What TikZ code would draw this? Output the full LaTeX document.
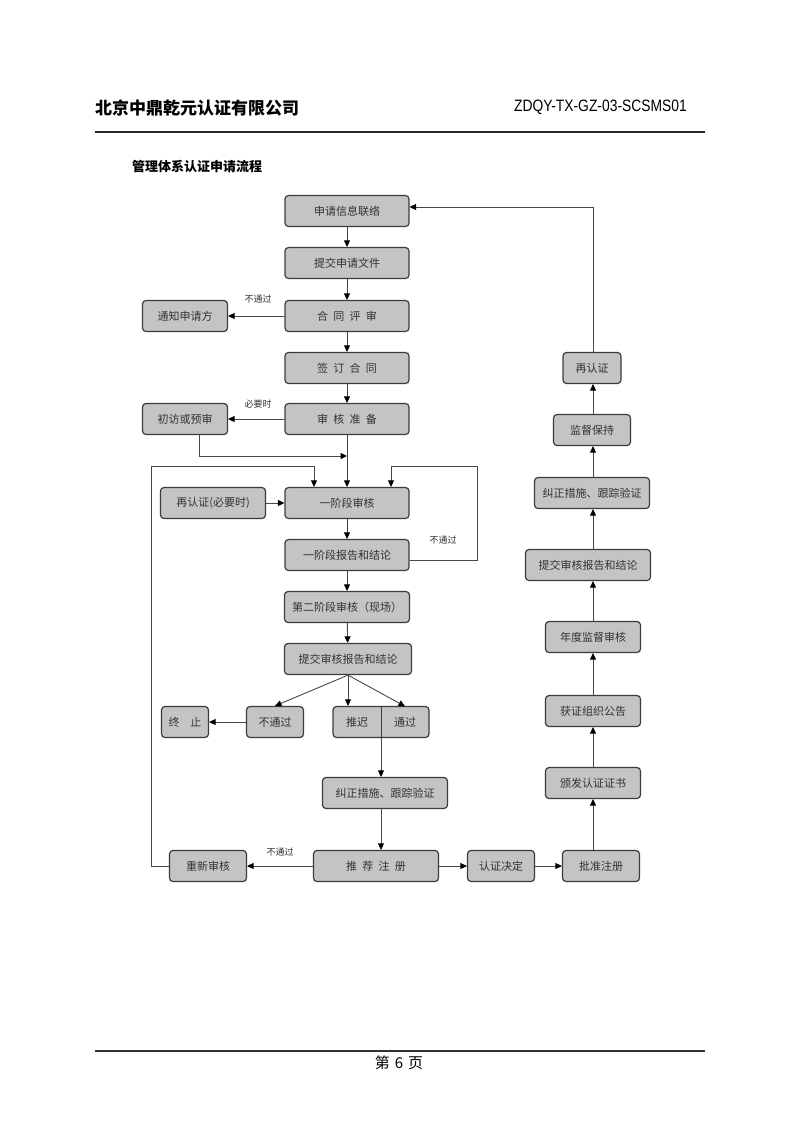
\documentclass[tikz,border=0pt]{standalone}
\usepackage{fontspec}
\usepackage{tikz}
\usetikzlibrary{arrows.meta,calc}
\newfontfamily\cjk{Noto Sans CJK SC}
\newfontfamily\codefont[FakeStretch=0.84]{Liberation Sans}
\definecolor{boxfill}{RGB}{196,196,196}
\definecolor{boxline}{RGB}{60,60,60}
\definecolor{boxtext}{RGB}{50,50,50}
\definecolor{wireclr}{RGB}{72,72,72}
\newcommand{\kong}{\hspace{0.48em}}
\tikzset{
  % Flow boxes
  flowbox/.style  = {draw=boxline, fill=boxfill, line width=1.2pt, rounded corners=3.5pt,
                     minimum height=31pt, inner sep=0pt, text=boxtext,
                     font=\cjk\fontsize{11pt}{13pt}\selectfont},
  plaintxt/.style = {inner sep=0pt, minimum height=31pt, text=boxtext,
                     font=\cjk\fontsize{11pt}{13pt}\selectfont},
  % Connectors
  wire/.style     = {draw=wireclr, line width=0.9pt},
  arrow/.style    = {wire, -{Triangle[length=6.5pt,width=6pt,color=black]}},
  % Small labels
  note/.style     = {font=\cjk\fontsize{9pt}{10pt}\selectfont, text=boxtext, inner sep=0pt},
}
\begin{document}
\begin{tikzpicture}[x=1pt,y=-1pt]
  \useasboundingbox[fill=white] (0,0) rectangle (800,1135);
  % Header and footer
  \node[anchor=west, inner sep=0pt, font=\cjk\bfseries\fontsize{17pt}{19pt}\selectfont]
    (company) at (95,108) {北京中鼎乾元认证有限公司};
  \node[anchor=east, inner sep=0pt, font=\codefont\fontsize{16.5pt}{18pt}\selectfont]
    (docno) at (687,107) {ZDQY-TX-GZ-03-SCSMS01};
  \draw[line width=1.3pt, black!85] (95,132) -- (705,132);
  \node[anchor=west, inner sep=0pt, font=\cjk\bfseries\fontsize{13pt}{15pt}\selectfont]
    (title) at (132,167) {管理体系认证申请流程};
  \draw[line width=2pt, black!80] (95,1051) -- (705,1051);
  \node[inner sep=0pt, font=\cjk\fontsize{15pt}{17pt}\selectfont] (pageno) at (399,1063) {第\,\,6\,\,页};
  % Left column
  \node[flowbox, minimum width=124pt] (apply)     at (347,211) {申请信息联络};
  \node[flowbox, minimum width=124pt] (submit)    at (347,263) {提交申请文件};
  \node[flowbox, minimum width=124pt] (contract)  at (347,316) {合\kong 同\kong 评\kong 审};
  \node[flowbox, minimum width=85pt]  (notify)    at (185,316) {通知申请方};
  \node[flowbox, minimum width=124pt] (sign)      at (347,368) {签\kong 订\kong 合\kong 同};
  \node[flowbox, minimum width=124pt] (prep)      at (347,419) {审\kong 核\kong 准\kong 备};
  \node[flowbox, minimum width=85pt]  (visit)     at (185,419) {初访或预审};
  \node[flowbox, minimum width=105pt] (recert)    at (213,503) {再认证(必要时)};
  \node[flowbox, minimum width=124pt] (stage1)    at (347,503) {一阶段审核};
  \node[flowbox, minimum width=124pt] (stage1rep) at (347,555) {一阶段报告和结论};
  \node[flowbox, minimum width=125pt] (stage2)    at (347,607) {第二阶段审核（现场）};
  \node[flowbox, minimum width=127pt] (report)    at (348,659) {提交审核报告和结论};
  \node[flowbox, minimum width=57pt]  (fail)      at (275,722) {不通过};
  \node[flowbox, minimum width=47pt]  (stop)      at (185,722) {终\kong\kong 止};
  \node[flowbox, minimum width=96pt]  (hold)      at (381,722) {};
  \node[plaintxt, minimum width=48pt] (delay)     at (357,722) {推迟};
  \node[plaintxt, minimum width=48pt] (pass)      at (405,722) {通过};
  \draw[boxline, line width=1pt] (hold.north) -- (hold.south);
  \node[flowbox, minimum width=125pt] (fix)       at (385,793) {纠正措施、跟踪验证};
  \node[flowbox, minimum width=125pt] (recommend) at (376,866) {推\kong 荐\kong 注\kong 册};
  \node[flowbox, minimum width=77pt]  (redo)      at (208,866) {重新审核};
  \node[flowbox, minimum width=67pt]  (decide)    at (501,866) {认证决定};
  % Right column
  \node[flowbox, minimum width=77pt]  (approve)   at (601,866) {批准注册};
  \node[flowbox, minimum width=95pt]  (issue)     at (593,783) {颁发认证证书};
  \node[flowbox, minimum width=95pt]  (publish)   at (593,711) {获证组织公告};
  \node[flowbox, minimum width=95pt]  (annual)    at (593,637) {年度监督审核};
  \node[flowbox, minimum width=125pt] (report2)   at (588,565) {提交审核报告和结论};
  \node[flowbox, minimum width=115pt] (fix2)      at (592,493) {纠正措施、跟踪验证};
  \node[flowbox, minimum width=77pt]  (keep)      at (592,430) {监督保持};
  \node[flowbox, minimum width=58pt]  (again)     at (592,368) {再认证};
  \coordinate (spine) at (593,0);
  % Main chain
  \draw[arrow] (apply) -- (submit);
  \draw[arrow] (submit) -- (contract);
  \draw[arrow] (contract) -- (sign);
  \draw[arrow] (sign) -- (prep);
  \draw[arrow] (prep) -- (stage1);
  \draw[arrow] (stage1) -- (stage1rep);
  \draw[arrow] (stage1rep) -- (stage2);
  \draw[arrow] (stage2) -- (report);
  \draw[arrow] (contract) -- (notify);
  \draw[arrow] (prep) -- (visit);
  \draw[arrow] (recert) -- (stage1);
  \node[note] (nopass1) at (258,299) {不通过};
  \node[note] (needed)  at (258,404) {必要时};
  % Pre-visit joins the main line
  \coordinate (vjoin) at (199,456);
  \draw[arrow] (vjoin |- visit.south) |- (prep.south |- vjoin);
  % Loop back from stage-1 report
  \coordinate (inR) at (391,466);
  \draw[wire] ([yshift=-5pt]stage1rep.east) -| (477,466) -- (inR);
  \draw[arrow] (inR) -- (inR |- stage1.north);
  \node[note] (nopass2) at (443,540) {不通过};
  % Loop back from re-audit
  \coordinate (inL) at (314,466);
  \draw[wire] (redo.west) -| (151,466) -- (inL);
  \draw[arrow] (inL) -- (inL |- stage1.north);
  % Audit outcome
  \draw[arrow] (report.south) -- (fail.north);
  \draw[arrow] (report.south) -- (report.south |- hold.north);
  \draw[arrow] (report.south) -- (pass.north);
  \draw[arrow] (fail) -- (stop);
  \draw[arrow] (hold.south) -- (hold.south |- fix.north);
  \draw[arrow] (hold.south |- fix.south) -- (hold.south |- recommend.north);
  \draw[arrow] (recommend) -- (redo);
  \node[note] (nopass3) at (280,852) {不通过};
  \draw[arrow] (recommend) -- (decide);
  \draw[arrow] (decide) -- (approve);
  % Certification cycle
  \draw[arrow] (spine |- approve.north) -- (spine |- issue.south);
  \draw[arrow] (spine |- issue.north) -- (spine |- publish.south);
  \draw[arrow] (spine |- publish.north) -- (spine |- annual.south);
  \draw[arrow] (spine |- annual.north) -- (spine |- report2.south);
  \draw[arrow] (spine |- report2.north) -- (spine |- fix2.south);
  \draw[arrow] (spine |- fix2.north) -- (spine |- keep.south);
  \draw[arrow] (spine |- keep.north) -- (spine |- again.south);
  \draw[arrow] (spine |- again.north) |- ([yshift=4pt]apply.east);
\end{tikzpicture}
\end{document}
